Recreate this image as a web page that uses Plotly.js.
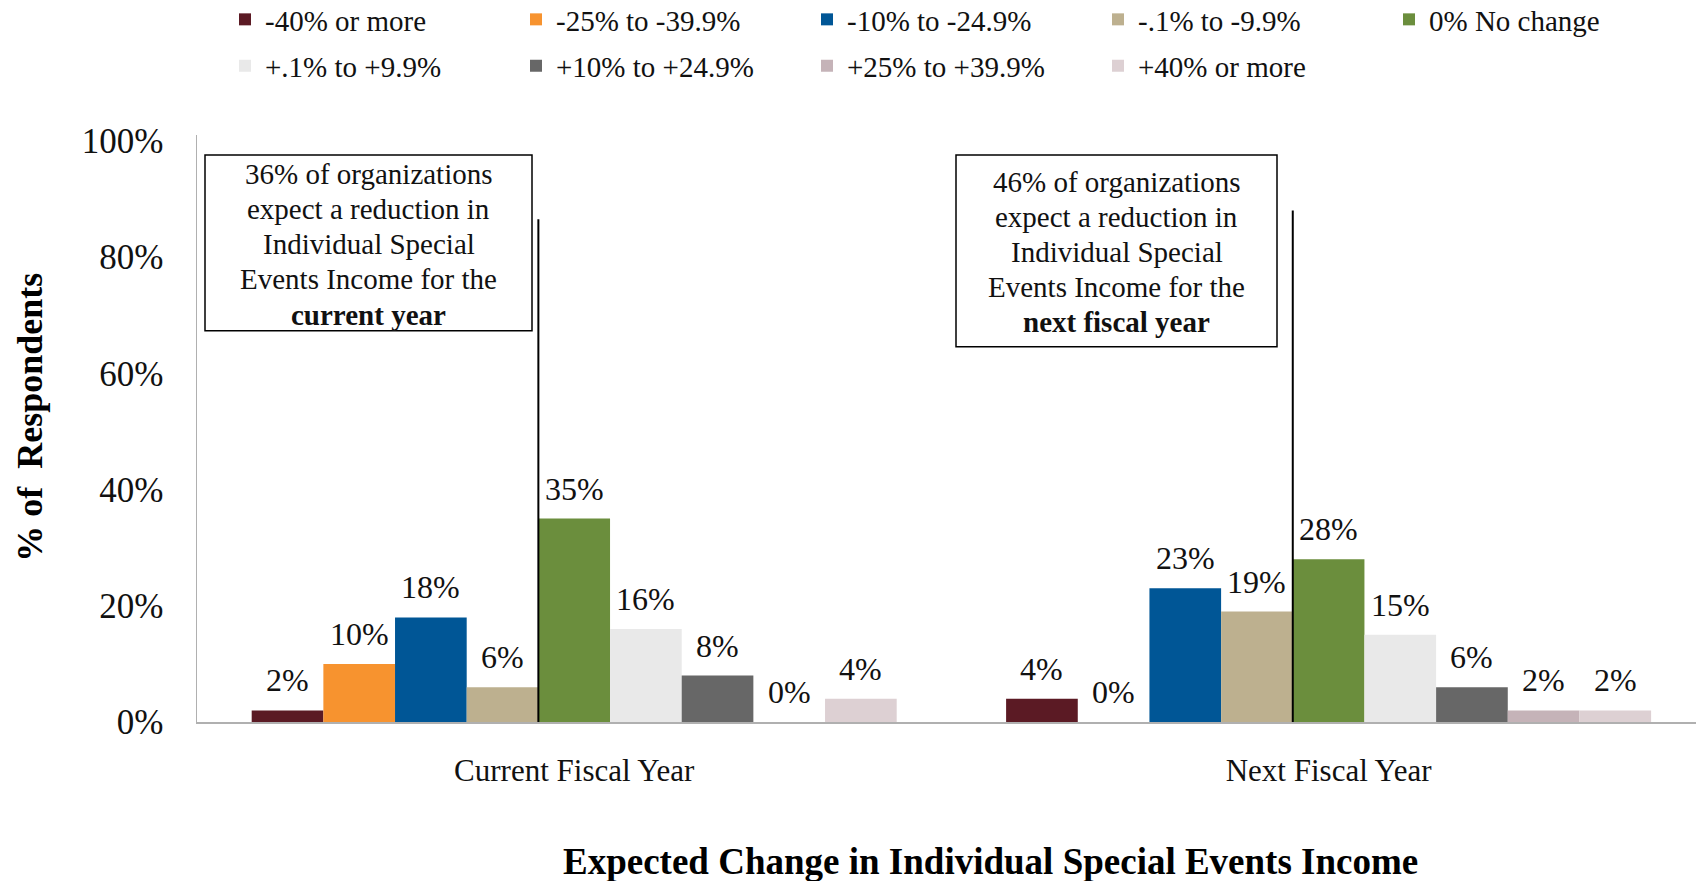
<!DOCTYPE html>
<html>
<head>
<meta charset="utf-8">
<script src="https://cdn.plot.ly/plotly-3.0.1.min.js"></script>
<style>html,body{margin:0;padding:0;background:#fff;}#chart{width:1696px;height:881px;}</style>
</head>
<body>
<div id="chart"></div>
<script>
const categories = ['Current Fiscal Year', 'Next Fiscal Year'];
const seriesNames = ['-40% or more', '-25% to -39.9%', '-10% to -24.9%', '-.1% to -9.9%', '0% No change',
                     '+.1% to +9.9%', '+10% to +24.9%', '+25% to +39.9%', '+40% or more'];
const currentYear = [2, 10, 18, 6, 35, 16, 8, 0, 4];
const nextYear = [4, 0, 23, 19, 28, 15, 6, 2, 2];
const colors = ['#5b1a24', '#f7932f', '#005696', '#bdb08f', '#6b8e3d',
                '#e9e9e9', '#676767', '#c5b3b8', '#ddd0d3'];
const yTicks = [0, 20, 40, 60, 80, 100];
const callouts = [
  ['36% of organizations', 'expect a reduction in', 'Individual Special', 'Events Income for the', '<b>current year</b>'],
  ['46% of organizations', 'expect a reduction in', 'Individual Special', 'Events Income for the', '<b>next fiscal year</b>']
];
const xTitle = 'Expected Change in Individual Special Events Income';
const yTitle = '% of  Respondents';

const FONT = "'Liberation Serif', 'Times New Roman', Times, serif";
const W = 1696, H = 881;
const L = 197, T = 135, B = 158.5;
const plotW = W - L, plotH = H - T - B;
const px = v => (v - L) / plotW;
const py = v => (H - B - v) / plotH;

const bargap = 0.145;
const nS = seriesNames.length;
const barW = (1 - bargap) / nS;
const values = [currentYear, nextYear];

const traces = seriesNames.map((name, i) => ({
  type: 'bar',
  name: name,
  x: categories,
  y: [currentYear[i], nextYear[i]],
  marker: {color: colors[i], line: {width: 0}},
  legend: i < 5 ? 'legend' : 'legend2',
  hoverinfo: 'skip'
}));

const annotations = [];
values.forEach((vals, c) => {
  vals.forEach((v, i) => {
    annotations.push({
      xref: 'x', yref: 'y', x: c - (1 - bargap) / 2 + (i + 0.5) * barW, y: v,
      text: v + '%', showarrow: false, yanchor: 'middle', yshift: 30,
      font: {family: FONT, size: 32, color: '#111'}
    });
  });
});

// callout boxes
const boxes = [
  {x0: 205, x1: 532, y0: 155, y1: 331, tc: 174},
  {x0: 956, x1: 1277, y0: 155, y1: 347, tc: 181.7}
];
const lineGap = 35.2;
const shapes = [];
boxes.forEach((b, k) => {
  shapes.push({type: 'rect', xref: 'paper', yref: 'paper',
    x0: px(b.x0), x1: px(b.x1), y0: py(b.y1), y1: py(b.y0),
    line: {color: '#000', width: 1.5}, fillcolor: 'rgba(0,0,0,0)'});
  callouts[k].forEach((ln, j) => {
    annotations.push({xref: 'paper', yref: 'paper', x: px((b.x0 + b.x1) / 2), y: py(b.tc + j * lineGap),
      yanchor: 'middle', xanchor: 'center', showarrow: false, align: 'center',
      text: ln, font: {family: FONT, size: 29, color: '#111'}});
  });
});
// vertical divider lines at the boundary before the "0% No change" bar
const dividerIdx = seriesNames.indexOf('0% No change');
const dividerTops = [86.5, 88];
categories.forEach((cat, c) => {
  const xv = c - (1 - bargap) / 2 + dividerIdx * barW;
  shapes.push({type: 'line', xref: 'x', yref: 'y', x0: xv, x1: xv, y0: c === 0 ? -1 : 0, y1: dividerTops[c],
    line: {color: '#000', width: 2}});
});

annotations.push({xref: 'paper', yref: 'paper', x: px(990), y: py(862), xanchor: 'center', yanchor: 'middle',
  showarrow: false, text: '<b>' + xTitle + '</b>', font: {family: FONT, size: 37, color: '#000'}});
annotations.push({xref: 'paper', yref: 'paper', x: px(30), y: py(418), xanchor: 'center', yanchor: 'middle',
  textangle: -90, showarrow: false, text: '<b>' + yTitle + '</b>', font: {family: FONT, size: 36, color: '#000'}});

const legendCommon = {
  orientation: 'h', xref: 'container', yref: 'container', xanchor: 'left', yanchor: 'middle',
  font: {family: FONT, size: 29, color: '#111'}, entrywidth: 246, entrywidthmode: 'pixels',
  bgcolor: 'rgba(0,0,0,0)', itemclick: false, itemdoubleclick: false, traceorder: 'normal'
};

const layout = {
  width: W, height: H,
  font: {family: FONT},
  margin: {l: L, r: 0, t: T, b: B, pad: 0},
  paper_bgcolor: '#fff', plot_bgcolor: '#fff',
  barmode: 'group', bargap: bargap, bargroupgap: 0,
  showlegend: true,
  legend: Object.assign({}, legendCommon, {x: 225 / W, y: 1 - 19.5 / H}),
  legend2: Object.assign({}, legendCommon, {x: 225 / W, y: 1 - 66 / H}),
  xaxis: {
    type: 'category', range: [-0.5, 1.487], showline: true, linecolor: '#b0b0b0', linewidth: 1.5,
    ticks: '', showgrid: false, zeroline: false, ticklabelstandoff: 20,
    tickfont: {family: FONT, size: 31, color: '#111'}
  },
  yaxis: {
    range: [0, 101], tickvals: yTicks, ticktext: yTicks.map(v => v + '%'),
    showline: true, linecolor: '#b0b0b0', linewidth: 1.5, showgrid: false, zeroline: false,
    ticks: '', ticklabelstandoff: 25, tickfont: {family: FONT, size: 35, color: '#111'}
  },
  shapes: shapes,
  annotations: annotations
};

Plotly.newPlot('chart', traces, layout, {displayModeBar: false, staticPlot: true});
</script>
</body>
</html>
